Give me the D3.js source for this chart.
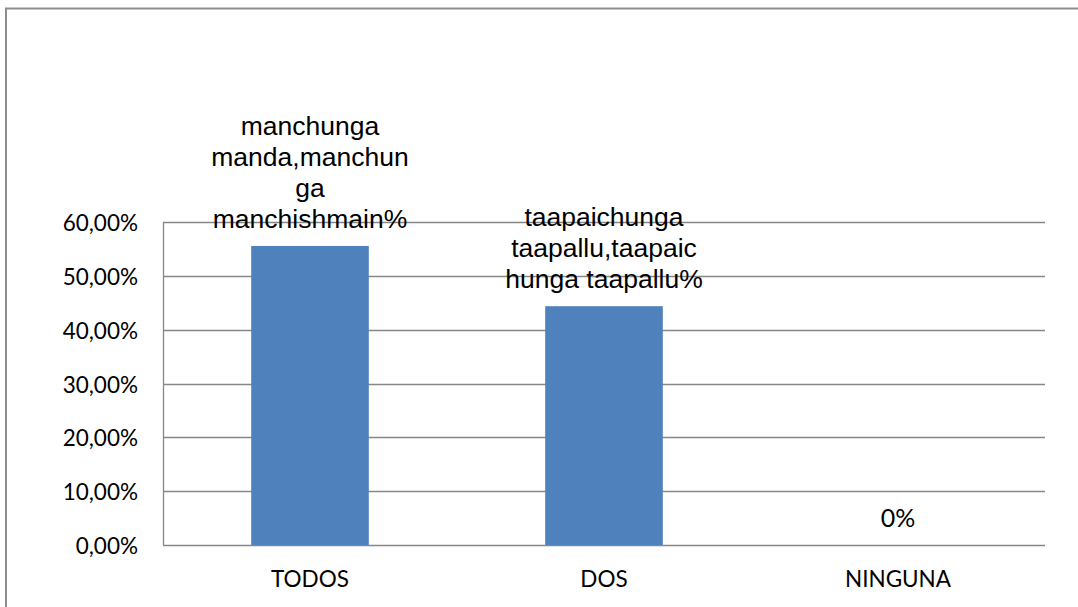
<!DOCTYPE html>
<html lang="en">
<head>
    <meta charset="UTF-8">
    <title>TODOS / DOS / NINGUNA</title>
    <script src="https://d3js.org/d3.v7.min.js"></script>
    <style>
        body {
            margin: 0;
            background: #fff;
            overflow: hidden;
        }

        .tick-label, .cat-label, .zero-label {
            font-family: Lato, "Open Sans", sans-serif;
            fill: #000;
        }

        .value-label {
            font-family: "Liberation Sans", Arial, sans-serif;
            font-size: 26.5px;
            fill: #000;
        }
    </style>
</head>
<body>
    <div id="chart"></div>

    <script>
        // data
        const categories = ["TODOS", "DOS", "NINGUNA"];
        const values = [0.556, 0.444, 0];
        const valueLabels = [
            ["manchunga", "manda,manchun", "ga", "manchishmain%"],
            ["taapaichunga", "taapallu,taapaic", "hunga taapallu%"],
            ["0%"]
        ];
        const yTicks = [0, 0.1, 0.2, 0.3, 0.4, 0.5, 0.6];

        const width = 1078, height = 607;
        const plot = { left: 163, right: 1045, top: 222.3, bottom: 545 };

        const svg = d3.select("#chart")
            .append("svg")
            .attr("width", width)
            .attr("height", height);

        // outer frame
        svg.append("rect")
            .attr("x", 6)
            .attr("y", 8.5)
            .attr("width", width + 10)
            .attr("height", height + 10)
            .attr("fill", "none")
            .attr("stroke", "#8e8e8e")
            .attr("stroke-width", 2);

        const x = d3.scaleBand()
            .domain(categories)
            .range([plot.left, plot.right])
            .paddingInner(0.6)
            .paddingOuter(0.3);

        const y = d3.scaleLinear()
            .domain([0, 0.6])
            .range([plot.bottom, plot.top]);

        const fmt = d3.formatLocale({ decimal: ",", thousands: ".", grouping: [3], currency: ["", "€"] }).format(".2%");

        // gridlines
        svg.append("g")
            .selectAll("line")
            .data(yTicks)
            .enter().append("line")
            .attr("x1", plot.left)
            .attr("x2", plot.right)
            .attr("y1", d => Math.round(y(d)) + 0.5)
            .attr("y2", d => Math.round(y(d)) + 0.5)
            .attr("stroke", "#878787")
            .attr("stroke-width", 1.3);

        // value axis line
        svg.append("line")
            .attr("x1", plot.left + 0.5)
            .attr("x2", plot.left + 0.5)
            .attr("y1", y(0.6))
            .attr("y2", y(0))
            .attr("stroke", "#878787")
            .attr("stroke-width", 1.3);

        svg.append("g")
            .selectAll("text")
            .data(yTicks)
            .enter().append("text")
            .attr("class", "tick-label")
            .attr("x", 138)
            .attr("y", d => y(d) + 9)
            .attr("text-anchor", "end")
            .style("font-size", "22.5px")
            .text(d => fmt(d));

        // bars
        svg.append("g")
            .selectAll("rect")
            .data(categories)
            .enter().append("rect")
            .attr("x", d => x(d))
            .attr("width", x.bandwidth())
            .attr("y", (d, i) => y(values[i]))
            .attr("height", (d, i) => y(0) - y(values[i]))
            .attr("fill", "#4f81bd");

        // category labels
        svg.append("g")
            .selectAll("text")
            .data(categories)
            .enter().append("text")
            .attr("class", "cat-label")
            .attr("x", d => x(d) + x.bandwidth() / 2)
            .attr("y", 587)
            .attr("text-anchor", "middle")
            .style("font-size", "22.5px")
            .text(d => d);

        // data labels above the bars
        categories.forEach((c, i) => {
            const lines = valueLabels[i];
            const cx = x(c) + x.bandwidth() / 2;
            const base = y(values[i]) - 18;
            const isZero = values[i] === 0;
            const t = svg.append("text")
                .attr("class", isZero ? "zero-label" : "value-label")
                .attr("text-anchor", "middle")
                .style("font-size", isZero ? "25px" : null);
            lines.forEach((ln, j) => {
                t.append("tspan")
                    .attr("x", cx)
                    .attr("y", base - (lines.length - 1 - j) * 31)
                    .text(ln);
            });
        });
    </script>
</body>
</html>
